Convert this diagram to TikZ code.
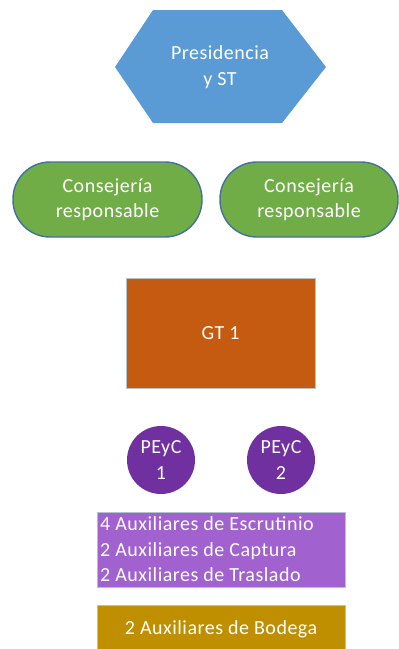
\documentclass[tikz,border=0pt]{standalone}
\usepackage{fontspec}
\setmainfont[LetterSpace=2.5]{Carlito}
\usetikzlibrary{positioning}
\definecolor{hexblue}{HTML}{5B9BD5}
\definecolor{consgreen}{HTML}{70AD47}
\definecolor{consedge}{HTML}{41719C}
\definecolor{gtorange}{HTML}{C55A11}
\definecolor{peycpurple}{HTML}{7030A0}
\definecolor{auxpurple}{HTML}{A162D0}
\definecolor{bodgold}{HTML}{BF8F00}
\definecolor{softedge}{HTML}{B4C2D0}

\begin{document}
\begin{tikzpicture}[x=1pt, y=-1pt,
    every node/.style={text=white, font=\fontsize{20}{25.5}\selectfont, align=center},
    cons/.style={draw=consedge, line width=1.4pt, fill=consgreen, rounded corners=37pt},
    box/.style={draw=softedge, line width=0.8pt}]
		\useasboundingbox (0,0) rectangle (399,649);

		% hexagon
		\fill[hexblue] (115,67) -- (153,10) -- (282,10) -- (326,67) -- (282,123) -- (153,123) -- cycle;
		\node (pres) at (220,67) {Presidencia\\y ST};

		% consejerias
		\draw[cons] (13,162) rectangle (202,237);
		\draw[cons] (220,162) rectangle (398,237);
		\node (cons1) at (107.5,199.5) {Consejería\\responsable};
		\node (cons2) at (309,199.5) {Consejería\\responsable};

		% GT
		\draw[box, fill=gtorange] (126,278) rectangle (315,388);
		\node (gt) at (220.5,333) {GT 1};

		% PEyC
		\fill[peycpurple] (161,460) circle (34);
		\fill[peycpurple] (281,460) circle (34);
		\node (peyc1) at (161,460) {PEyC\\1};
		\node (peyc2) at (281,460) {PEyC\\2};

		% auxiliares
		\draw[box, fill=auxpurple] (97,512) rectangle (345,587);
		\node[align=left, anchor=west, inner sep=0pt] (aux) at (100,549.5) {4 Auxiliares de Escrutinio\\2 Auxiliares de Captura\\2 Auxiliares de Traslado};

		\draw[box, fill=bodgold] (97,605) rectangle (345,652);
		\node (bod) at (221,629) {2 Auxiliares de Bodega};
		\end{tikzpicture}
\end{document}
